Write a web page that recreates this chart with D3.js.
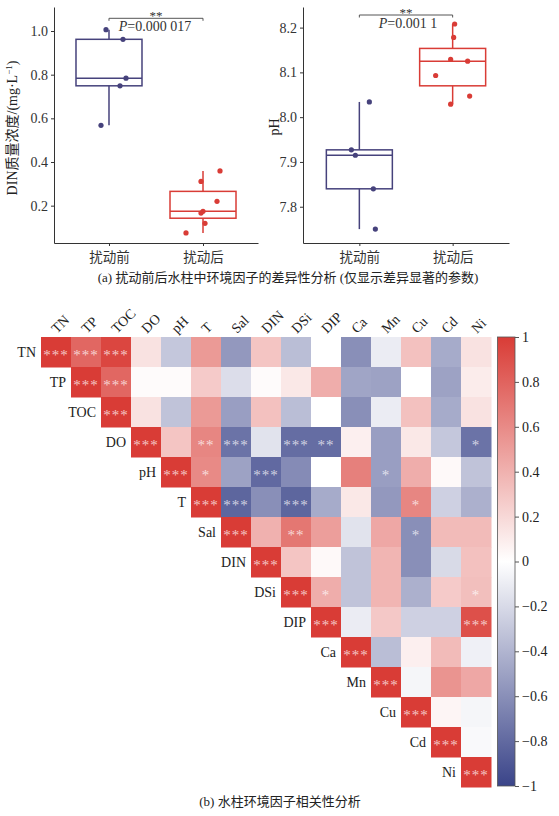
<!DOCTYPE html>
<html>
<head>
<meta charset="utf-8">
<script src="https://cdn.jsdelivr.net/npm/d3@7"></script>
<style>
  body { margin: 0; background: #fff; }
  svg text { font-family: "Liberation Serif", "Noto Sans CJK SC", serif; }
</style>
</head>
<body>
<script>
// ---- data: boxplots (a) ----
var groups = ["扰动前", "扰动后"];
var dinBefore = [1.006, 0.962, 0.784, 0.749, 0.568];
var dinAfter = [0.359, 0.311, 0.220, 0.174, 0.166, 0.119, 0.075];
var dinBeforeJitter = [-3, 14, 17, 11, -8];
var dinAfterJitter = [17, -2, 14, 0, -2, 2, -17];
var phBefore = [8.034, 7.927, 7.915, 7.840, 7.750];
var phAfter = [8.208, 8.178, 8.129, 8.125, 8.093, 8.047, 8.029];
var phBeforeJitter = [10, -8, -4, 14, 16];
var phAfterJitter = [2, 1, -2, 15, -17, 17, -2];
var dinTicks = [0.2, 0.4, 0.6, 0.8, 1.0];
var phTicks = [7.8, 7.9, 8.0, 8.1, 8.2];

// ---- data: correlation matrix (b), upper triangle rows from the diagonal ----
var vars = ["TN", "TP", "TOC", "DO", "pH", "T", "Sal", "DIN", "DSi", "DIP", "Ca", "Mn", "Cu", "Cd", "Ni"];
var corrRows = [
  [1, 0.78, 0.95, 0.15, -0.3, 0.52, -0.55, 0.3, -0.35, 0.0, -0.6, -0.1, 0.32, -0.45, 0.15],
  [1, 0.78, 0.02, 0.02, 0.27, -0.18, 0.02, 0.12, 0.42, -0.48, -0.5, 0.0, -0.5, 0.1],
  [1, 0.15, -0.32, 0.52, -0.52, 0.32, -0.35, 0.0, -0.6, -0.1, 0.32, -0.45, 0.15],
  [1, 0.3, 0.62, -0.75, -0.15, -0.78, -0.78, 0.08, -0.52, 0.12, -0.3, -0.75],
  [1, 0.6, -0.5, -0.8, -0.62, 0.0, 0.65, -0.52, 0.42, 0.03, -0.32],
  [1, -0.82, -0.6, -0.82, -0.45, 0.12, -0.55, 0.62, -0.25, -0.42],
  [1, 0.4, 0.7, 0.5, -0.15, 0.45, -0.6, 0.35, 0.35],
  [1, 0.3, 0.03, -0.32, 0.38, -0.6, -0.2, 0.32],
  [1, 0.42, -0.32, 0.38, -0.42, 0.27, 0.33],
  [1, -0.1, 0.28, -0.25, -0.25, 0.9],
  [1, -0.35, 0.08, 0.35, -0.08],
  [1, -0.05, 0.55, 0.45],
  [1, 0.05, -0.05],
  [1, -0.03],
  [1]
];
var sigRows = [
  ["***", "***", "***"],
  ["***", "***"],
  ["***"],
  ["***", "", "**", "***", "", "***", "**", "", "", "", "", "*"],
  ["***", "*", "", "***", "", "", "", "*"],
  ["***", "***", "", "***", "", "", "", "*"],
  ["***", "", "**", "", "", "", "*"],
  ["***"],
  ["***", "*", "", "", "", "", "*"],
  ["***", "", "", "", "", "***"],
  ["***"],
  ["***"],
  ["***"],
  ["***"],
  ["***"]
];
var cbTicks = [1, 0.8, 0.6, 0.4, 0.2, 0, -0.2, -0.4, -0.6, -0.8, -1];

var navy = "#46427c", red = "#d93c36";
var W = 559, H = 816;

var svg = d3.select("body").append("svg")
    .attr("width", W)
    .attr("height", H);

// ---------- boxplot panel ----------
function boxPanel(opts) {
    var g = svg.append("g");
    var x = d3.scalePoint().domain(groups).range([opts.left, opts.right]).padding(opts.pad);
    var y = d3.scaleLinear().domain(opts.domain).range([243, 7]);

    var yAx = g.append("g")
        .attr("transform", "translate(" + opts.left + ",0)")
        .call(d3.axisLeft(y).tickValues(opts.ticks).tickFormat(d3.format(".1f")).tickSize(3).tickPadding(3).tickSizeOuter(0));
    var xAx = g.append("g")
        .attr("transform", "translate(0,243)")
        .call(d3.axisBottom(x).tickSize(3).tickPadding(4).tickSizeOuter(0));
    [yAx, xAx].forEach(function (a) {
        a.selectAll("path, line").attr("stroke", "#333");
        a.selectAll("text").attr("fill", "#333").style("font-size", "14px");
    });
    xAx.selectAll("text").style("font-size", "13.5px").attr("dy", "0.9em");

    var sets = [
        { name: groups[0], vals: opts.before, jit: opts.jBefore, color: navy },
        { name: groups[1], vals: opts.after, jit: opts.jAfter, color: red }
    ];
    var bw = 66;
    sets.forEach(function (s) {
        var sorted = s.vals.slice().sort(d3.ascending);
        var q1 = d3.quantile(sorted, 0.25), med = d3.quantile(sorted, 0.5), q3 = d3.quantile(sorted, 0.75);
        var iqr = q3 - q1;
        var lo = d3.min(sorted.filter(function (v) { return v >= q1 - 1.5 * iqr; }));
        var hi = d3.max(sorted.filter(function (v) { return v <= q3 + 1.5 * iqr; }));
        var cx = x(s.name);
        g.append("line").attr("x1", cx).attr("x2", cx).attr("y1", y(q3)).attr("y2", y(hi))
            .attr("stroke", s.color).attr("stroke-width", 1.5);
        g.append("line").attr("x1", cx).attr("x2", cx).attr("y1", y(q1)).attr("y2", y(lo))
            .attr("stroke", s.color).attr("stroke-width", 1.5);
        g.append("rect").attr("x", cx - bw / 2).attr("y", y(q3)).attr("width", bw).attr("height", y(q1) - y(q3))
            .attr("fill", "none").attr("stroke", s.color).attr("stroke-width", 1.5);
        g.append("line").attr("x1", cx - bw / 2).attr("x2", cx + bw / 2).attr("y1", y(med)).attr("y2", y(med))
            .attr("stroke", s.color).attr("stroke-width", 1.5);
        g.selectAll(null).data(s.vals).enter().append("circle")
            .attr("cx", function (d, i) { return cx + s.jit[i]; })
            .attr("cy", function (d) { return y(d); })
            .attr("r", 2.6)
            .attr("fill", s.color);
    });

    // significance bracket
    var x1 = x(groups[0]), x2 = x(groups[1]), by = opts.bracketY;
    g.append("path")
        .attr("d", "M" + x1 + "," + (by + 2.5) + "V" + by + "H" + x2 + "V" + (by + 2.5))
        .attr("fill", "none").attr("stroke", "#555").attr("stroke-width", 1);
    g.append("text").attr("x", (x1 + x2) / 2).attr("y", by + 1.5)
        .attr("text-anchor", "middle").style("font-size", "13px").attr("fill", "#333").text("**");
    var pt = g.append("text").attr("x", (x1 + x2) / 2 + opts.pShift).attr("y", by + 13)
        .attr("text-anchor", "middle").style("font-size", "14px").attr("fill", "#333");
    pt.append("tspan").style("font-style", "italic").text("P");
    pt.append("tspan").text("=" + opts.pText);

    // y title
    var yt = g.append("text")
        .attr("transform", "translate(" + opts.titleX + "," + opts.titleY + ") rotate(-90)")
        .attr("text-anchor", "middle").style("font-size", "14px").attr("fill", "#222");
    opts.title(yt);
}

boxPanel({
    left: 54, right: 258, pad: 0.585, domain: [0.029, 1.11], ticks: dinTicks,
    before: dinBefore, after: dinAfter, jBefore: dinBeforeJitter, jAfter: dinAfterJitter,
    bracketY: 18.3, pText: "0.000 017", pShift: -1, titleX: 17, titleY: 128,
    title: function (t) {
        t.append("tspan").text("DIN质量浓度/(mg·L");
        t.append("tspan").attr("baseline-shift", "super").style("font-size", "9px").text("−1");
        t.append("tspan").text(")");
    }
});
boxPanel({
    left: 303, right: 509, pad: 0.604, domain: [7.719, 8.246], ticks: phTicks,
    before: phBefore, after: phAfter, jBefore: phBeforeJitter, jAfter: phAfterJitter,
    bracketY: 15, pText: "0.001 1", pShift: 2, titleX: 279, titleY: 127,
    title: function (t) { t.text("pH"); }
});

svg.append("text").attr("x", 288).attr("y", 282).attr("text-anchor", "middle")
    .style("font-size", "13px").attr("fill", "#222")
    .text("(a) 扰动前后水柱中环境因子的差异性分析 (仅显示差异显著的参数)");

// ---------- correlation heatmap ----------
var color = d3.scaleLinear().domain([-1, 0, 1]).range(["#3a4489", "#ffffff", "#d93c36"]);
var hx = d3.scaleBand().domain(vars).range([41, 491]);
var hy = d3.scaleBand().domain(vars).range([337, 787]);

var cells = [];
corrRows.forEach(function (row, i) {
    row.forEach(function (v, k) {
        var j = i + k;
        cells.push({ r: vars[i], c: vars[j], v: v, s: sigRows[i][k] || "" });
    });
});

var hm = svg.append("g");
hm.selectAll("rect").data(cells).enter().append("rect")
    .attr("x", function (d) { return hx(d.c); })
    .attr("y", function (d) { return hy(d.r); })
    .attr("width", hx.bandwidth() + 0.5)
    .attr("height", hy.bandwidth() + 0.5)
    .attr("fill", function (d) { return color(d.v); });

hm.selectAll("text.sig").data(cells.filter(function (d) { return d.s; })).enter().append("text")
    .attr("class", "sig")
    .attr("x", function (d) { return hx(d.c) + hx.bandwidth() / 2; })
    .attr("y", function (d) { return hy(d.r) + hy.bandwidth() / 2 + 8; })
    .attr("text-anchor", "middle")
    .style("font-size", "15px")
    .style("letter-spacing", "1px")
    .attr("fill", "#ffffff")
    .attr("fill-opacity", 0.72)
    .text(function (d) { return d.s; });

// row labels
hm.selectAll("text.rowlab").data(vars).enter().append("text")
    .attr("class", "rowlab")
    .attr("x", function (d) { return hx(d) - 5; })
    .attr("y", function (d) { return hy(d) + hy.bandwidth() / 2 + 5; })
    .attr("text-anchor", "end")
    .style("font-size", "14px")
    .attr("fill", "#222")
    .text(function (d) { return d; });

// column labels
hm.selectAll("text.collab").data(vars).enter().append("text")
    .attr("class", "collab")
    .attr("transform", function (d) { return "translate(" + (hx(d) + hx.bandwidth() / 2 + 1) + ",334) rotate(-45)"; })
    .attr("text-anchor", "start")
    .style("font-size", "14px")
    .attr("fill", "#222")
    .text(function (d) { return d; });

// colour bar
var cbY = d3.scaleLinear().domain([-1, 1]).range([786, 337]);
var grad = svg.append("defs").append("linearGradient")
    .attr("id", "cbgrad").attr("x1", 0).attr("y1", 1).attr("x2", 0).attr("y2", 0);
[-1, -0.5, 0, 0.5, 1].forEach(function (v) {
    grad.append("stop").attr("offset", (v + 1) / 2).attr("stop-color", color(v));
});
svg.append("rect").attr("x", 497.5).attr("y", cbY(1)).attr("width", 17.5).attr("height", cbY(-1) - cbY(1))
    .attr("fill", "url(#cbgrad)").attr("stroke", "#555").attr("stroke-width", 0.8);
var cbAx = svg.append("g").attr("transform", "translate(515,0)")
    .call(d3.axisRight(cbY).tickValues(cbTicks).tickFormat(d3.format("")).tickSize(4).tickPadding(3));
cbAx.select(".domain").remove();
cbAx.selectAll("line").attr("stroke", "#555");
cbAx.selectAll("text").attr("fill", "#222").style("font-size", "14px");

svg.append("text").attr("x", 280).attr("y", 806).attr("text-anchor", "middle")
    .style("font-size", "13px").attr("fill", "#222")
    .text("(b) 水柱环境因子相关性分析");
</script>
</body>
</html>
